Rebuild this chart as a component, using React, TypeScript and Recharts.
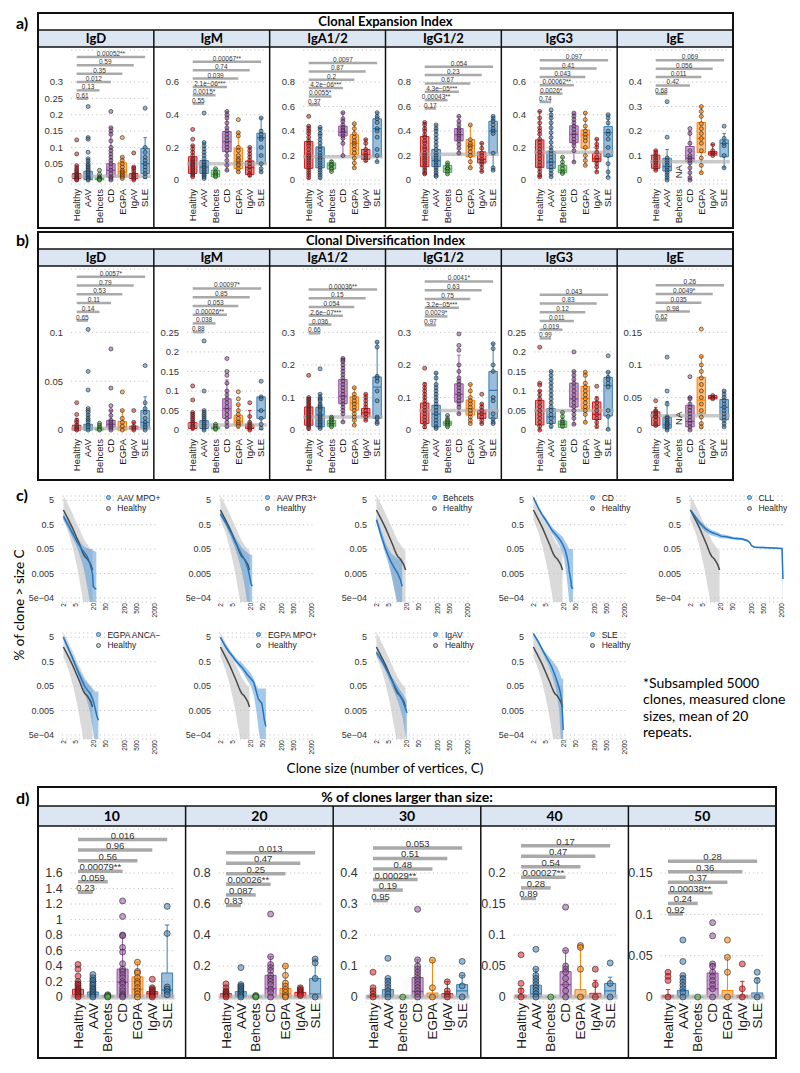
import React from 'react';
import {
  ComposedChart, XAxis, YAxis, CartesianGrid, Scatter, Area, Line,
  ReferenceArea, ReferenceLine, ReferenceDot,
} from 'recharts';

const FONT = "'Liberation Sans', Arial, sans-serif";
const TITLE_FONT = "Lato, 'Open Sans', sans-serif";

const GROUPS = ['Healthy', 'AAV', 'Behcets', 'CD', 'EGPA', 'IgAV', 'SLE'];
const GROUP_COLORS = ['#e41a1c', '#377eb8', '#4daf4a', '#984ea3', '#ff7f00', '#e41a1c', '#377eb8'];
const ISOTYPES = ['IgD', 'IgM', 'IgA1/2', 'IgG1/2', 'IgG3', 'IgE'];
const SIZES = ['10', '20', '30', '40', '50'];

// box stats per group: [whisker low, q1, median, q3, whisker high]

// ---- a) Clonal Expansion Index ----
const ceiIgDTicks = [0, 0.05, 0.1, 0.15, 0.2, 0.25, 0.3];
const ceiIgDBox = [[0, 0.005, 0.012, 0.02, 0.044], [0, 0.002, 0.01, 0.027, 0.065], [0, 0.001, 0.004, 0.006, 0.012], [0, 0.01, 0.03, 0.05, 0.16], [0.005, 0.01, 0.025, 0.053, 0.07], [0, 0.005, 0.012, 0.02, 0.04], [0.005, 0.02, 0.05, 0.097, 0.13]];
const ceiIgDPts = [
  [0.123, 0.08, 0.044, 0.036, 0.03, 0.025, 0.02, 0.016, 0.012, 0.008, 0.005, 0.002, 0],
  [0.225, 0.13, 0.125, 0.085, 0.065, 0.058, 0.05, 0.045, 0.04, 0.035, 0.03, 0.025, 0.02, 0.015, 0.01, 0.006, 0.003, 0],
  [0.03, 0.018, 0.01, 0.006, 0.004, 0.002, 0],
  [0.21, 0.16, 0.15, 0.14, 0.12, 0.1, 0.09, 0.08, 0.07, 0.06, 0.05, 0.04, 0.03, 0.02, 0.01, 0.005, 0],
  [0.13, 0.07, 0.06, 0.05, 0.04, 0.03, 0.025, 0.02, 0.015, 0.01, 0.005],
  [0.083, 0.04, 0.035, 0.028, 0.02, 0.015, 0.01, 0.005, 0],
  [0.22, 0.1, 0.085, 0.07, 0.06, 0.05, 0.04, 0.03, 0.02, 0.01],
];
const ceiIgDP = ['0.61', '0.13', '0.012', '0.35', '0.59', '0.00052**'];

const ceiIgMTicks = [0, 0.2, 0.4, 0.6];
const ceiIgMBox = [[0.02, 0.041, 0.1, 0.143, 0.21], [0.01, 0.041, 0.08, 0.119, 0.23], [0.015, 0.02, 0.035, 0.06, 0.07], [0.06, 0.174, 0.235, 0.297, 0.42], [0.05, 0.07, 0.11, 0.195, 0.29], [0.02, 0.035, 0.076, 0.117, 0.2], [0.05, 0.1, 0.26, 0.287, 0.38]];
const ceiIgMPts = [
  [0.31, 0.25, 0.21, 0.19, 0.17, 0.15, 0.13, 0.12, 0.11, 0.1, 0.09, 0.08, 0.07, 0.06, 0.05, 0.04, 0.03, 0.02],
  [0.41, 0.23, 0.21, 0.19, 0.17, 0.15, 0.13, 0.11, 0.1, 0.09, 0.08, 0.07, 0.06, 0.05, 0.04, 0.03, 0.02, 0.01],
  [0.07, 0.05, 0.04, 0.03, 0.02],
  [0.42, 0.4, 0.38, 0.35, 0.32, 0.3, 0.28, 0.26, 0.24, 0.22, 0.2, 0.18, 0.15, 0.12, 0.09, 0.06],
  [0.37, 0.29, 0.27, 0.2, 0.18, 0.15, 0.13, 0.12, 0.1, 0.09, 0.07, 0.05],
  [0.2, 0.18, 0.16, 0.14, 0.12, 0.1, 0.08, 0.06, 0.04, 0.03],
  [0.38, 0.3, 0.28, 0.26, 0.25, 0.2, 0.15, 0.1, 0.07, 0.05],
];
const ceiIgMP = ['0.55', '0.0015*', '2.1e\u221206***', '0.039', '0.74', '0.00067**'];

const ceiIgATicks = [0, 0.2, 0.4, 0.6, 0.8];
const ceiIgABox = [[0.01, 0.096, 0.19, 0.314, 0.44], [0.01, 0.1, 0.18, 0.27, 0.43], [0.07, 0.09, 0.12, 0.14, 0.16], [0.2, 0.36, 0.39, 0.44, 0.55], [0.1, 0.21, 0.3, 0.37, 0.46], [0.15, 0.17, 0.205, 0.25, 0.33], [0.15, 0.19, 0.42, 0.5, 0.55]];
const ceiIgAPts = [
  [0.52, 0.44, 0.42, 0.4, 0.38, 0.35, 0.32, 0.3, 0.28, 0.25, 0.22, 0.2, 0.18, 0.16, 0.14, 0.12, 0.1, 0.08, 0.06, 0.04, 0.02],
  [0.43, 0.41, 0.38, 0.36, 0.33, 0.3, 0.27, 0.25, 0.22, 0.2, 0.18, 0.16, 0.14, 0.12, 0.1, 0.08, 0.06, 0.04, 0.02],
  [0.15, 0.13, 0.12, 0.1, 0.09, 0.07],
  [0.55, 0.5, 0.48, 0.45, 0.43, 0.41, 0.4, 0.38, 0.36, 0.34, 0.3, 0.2],
  [0.46, 0.42, 0.38, 0.35, 0.32, 0.3, 0.28, 0.25, 0.22, 0.18, 0.14, 0.1],
  [0.33, 0.3, 0.25, 0.22, 0.2, 0.18, 0.16],
  [0.55, 0.52, 0.5, 0.47, 0.42, 0.4, 0.35, 0.25, 0.2, 0.15],
];
const ceiIgAP = ['0.37', '0.0055*', '4.2e\u221206***', '0.2', '0.87', '0.0097'];

const ceiIgG1Ticks = [0, 0.2, 0.4, 0.6, 0.8];
const ceiIgG1Box = [[0.05, 0.11, 0.21, 0.355, 0.47], [0.03, 0.11, 0.16, 0.25, 0.45], [0.05, 0.063, 0.09, 0.12, 0.14], [0.22, 0.32, 0.37, 0.42, 0.52], [0.1, 0.19, 0.28, 0.33, 0.45], [0.07, 0.14, 0.17, 0.23, 0.3], [0.08, 0.22, 0.4, 0.48, 0.52]];
const ceiIgG1Pts = [
  [0.47, 0.45, 0.42, 0.4, 0.37, 0.35, 0.32, 0.3, 0.27, 0.25, 0.22, 0.2, 0.18, 0.16, 0.14, 0.12, 0.1, 0.08, 0.06, 0.05],
  [0.45, 0.42, 0.4, 0.37, 0.34, 0.31, 0.28, 0.25, 0.22, 0.2, 0.18, 0.16, 0.14, 0.12, 0.1, 0.08, 0.06, 0.04, 0.03],
  [0.14, 0.12, 0.1, 0.09, 0.07, 0.05],
  [0.52, 0.48, 0.45, 0.42, 0.4, 0.38, 0.36, 0.34, 0.32, 0.29, 0.26, 0.22],
  [0.45, 0.33, 0.3, 0.28, 0.26, 0.23, 0.2, 0.15, 0.1],
  [0.3, 0.26, 0.22, 0.2, 0.17, 0.15, 0.13, 0.1, 0.07],
  [0.52, 0.5, 0.48, 0.45, 0.42, 0.4, 0.38, 0.22, 0.1, 0.08],
];
const ceiIgG1P = ['0.17', '0.00043**', '4.3e\u221205***', '0.67', '0.23', '0.054'];

const ceiIgG3Ticks = [0, 0.2, 0.4, 0.6];
const ceiIgG3Box = [[0.02, 0.078, 0.168, 0.246, 0.42], [0.02, 0.072, 0.11, 0.174, 0.42], [0.04, 0.045, 0.06, 0.09, 0.14], [0.11, 0.229, 0.28, 0.332, 0.41], [0.09, 0.195, 0.276, 0.307, 0.41], [0.05, 0.113, 0.13, 0.164, 0.25], [0.02, 0.143, 0.29, 0.327, 0.4]];
const ceiIgG3Pts = [
  [0.42, 0.38, 0.35, 0.32, 0.3, 0.28, 0.25, 0.23, 0.21, 0.19, 0.17, 0.15, 0.13, 0.11, 0.09, 0.07, 0.05, 0.03, 0.02],
  [0.43, 0.4, 0.38, 0.35, 0.32, 0.29, 0.26, 0.23, 0.2, 0.18, 0.16, 0.14, 0.12, 0.1, 0.08, 0.06, 0.04, 0.02],
  [0.14, 0.11, 0.09, 0.07, 0.05, 0.04],
  [0.41, 0.39, 0.37, 0.35, 0.33, 0.31, 0.29, 0.27, 0.25, 0.23, 0.21, 0.18, 0.11],
  [0.41, 0.37, 0.33, 0.3, 0.28, 0.26, 0.24, 0.2, 0.15, 0.12, 0.09],
  [0.25, 0.22, 0.2, 0.17, 0.14, 0.12, 0.1, 0.08, 0.05],
  [0.4, 0.38, 0.35, 0.3, 0.28, 0.25, 0.2, 0.15, 0.1, 0.05, 0.016],
];
const ceiIgG3P = ['0.74', '0.0026*', '0.00062**', '0.043', '0.41', '0.097'];

const ceiIgETicks = [0, 0.1, 0.2, 0.3, 0.4];
const ceiIgEBox = [[0.04, 0.048, 0.075, 0.102, 0.12], [0, 0.037, 0.055, 0.089, 0.125], null, [0, 0.075, 0.089, 0.137, 0.2], [0.03, 0.112, 0.17, 0.235, 0.3], [0.1, 0.102, 0.11, 0.116, 0.145], [0.05, 0.095, 0.15, 0.164, 0.19]];
const ceiIgEPts = [
  [0.12, 0.11, 0.1, 0.09, 0.08, 0.07, 0.06, 0.05, 0.04],
  [0.32, 0.175, 0.09, 0.08, 0.07, 0.06, 0.05, 0.04, 0.03, 0.02, 0.01, 0],
  [],
  [0.21, 0.19, 0.15, 0.12, 0.1, 0.09, 0.08, 0.07, 0.05, 0.03, 0.01, 0],
  [0.3, 0.28, 0.26, 0.23, 0.21, 0.19, 0.17, 0.15, 0.12, 0.09, 0.06, 0.03],
  [0.145, 0.12, 0.11, 0.1],
  [0.22, 0.17, 0.15, 0.14, 0.1, 0.05],
];
const ceiIgEP = ['0.68', null, '0.42', '0.011', '0.056', '0.069'];

// ---- b) Clonal Diversification Index ----
const cdiIgDTicks = [0, 0.05, 0.1];
const cdiIgDBox = [[0, 0, 0.002, 0.005, 0.012], [0, 0, 0.002, 0.006, 0.015], [0, 0, 0.001, 0.002, 0.005], [0, 0.003, 0.006, 0.01, 0.02], [0, 0, 0.003, 0.009, 0.02], [0, 0.001, 0.002, 0.004, 0.008], [0, 0.002, 0.008, 0.02, 0.034]];
const cdiIgDPts = [
  [0.028, 0.016, 0.01, 0.008, 0.005, 0.003, 0.001, 0],
  [0.103, 0.06, 0.041, 0.022, 0.02, 0.018, 0.015, 0.012, 0.01, 0.008, 0.005, 0.003, 0],
  [0.007, 0.005, 0.003, 0.001, 0],
  [0.083, 0.043, 0.025, 0.02, 0.015, 0.01, 0.008, 0.006, 0.004, 0.002, 0],
  [0.039, 0.02, 0.012, 0.008, 0.004, 0],
  [0.02, 0.008, 0.004, 0.002, 0],
  [0.066, 0.028, 0.022, 0.018, 0.012, 0.008, 0.005, 0.003, 0],
];
const cdiIgDP = ['0.65', '0.14', '0.11', '0.53', '0.79', '0.0057*'];

const cdiIgMTicks = [0, 0.05, 0.1, 0.15, 0.2, 0.25];
const cdiIgMBox = [[0, 0.004, 0.011, 0.019, 0.045], [0, 0.004, 0.014, 0.024, 0.05], [0, 0.003, 0.005, 0.008, 0.015], [0.005, 0.03, 0.055, 0.08, 0.128], [0.005, 0.013, 0.023, 0.038, 0.065], [0, 0.004, 0.009, 0.015, 0.05], [0.002, 0.03, 0.05, 0.085, 0.085]];
const cdiIgMPts = [
  [0.113, 0.077, 0.045, 0.04, 0.035, 0.03, 0.025, 0.02, 0.015, 0.01, 0.005],
  [0.228, 0.1, 0.05, 0.045, 0.04, 0.035, 0.03, 0.025, 0.02, 0.015, 0.01, 0.005, 0],
  [0.015, 0.01, 0.005, 0.002],
  [0.183, 0.15, 0.14, 0.12, 0.1, 0.09, 0.08, 0.07, 0.06, 0.05, 0.04, 0.03, 0.02, 0.01],
  [0.098, 0.08, 0.065, 0.05, 0.04, 0.03, 0.02, 0.015, 0.01],
  [0.07, 0.035, 0.02, 0.015, 0.01, 0.005, 0],
  [0.125, 0.085, 0.08, 0.05, 0.03, 0.015, 0.005],
];
const cdiIgMP = ['0.88', '0.038', '0.00026**', '0.053', '0.85', '0.00097*'];

const cdiIgATicks = [0, 0.1, 0.2, 0.3];
const cdiIgABox = [[0, 0.015, 0.041, 0.071, 0.1], [0.005, 0.01, 0.046, 0.07, 0.11], [0.01, 0.012, 0.02, 0.03, 0.04], [0.025, 0.081, 0.104, 0.155, 0.22], [0.015, 0.061, 0.083, 0.102, 0.13], [0.03, 0.041, 0.053, 0.066, 0.11], [0.02, 0.036, 0.132, 0.163, 0.27]];
const cdiIgAPts = [
  [0.168, 0.1, 0.095, 0.09, 0.085, 0.08, 0.075, 0.07, 0.065, 0.06, 0.055, 0.05, 0.045, 0.04, 0.035, 0.03, 0.025, 0.02, 0.015, 0.01, 0.005],
  [0.188, 0.11, 0.1, 0.095, 0.09, 0.08, 0.075, 0.07, 0.065, 0.06, 0.05, 0.045, 0.04, 0.035, 0.03, 0.025, 0.02, 0.015, 0.01, 0.005],
  [0.04, 0.035, 0.03, 0.025, 0.02, 0.015, 0.01],
  [0.22, 0.215, 0.21, 0.2, 0.19, 0.18, 0.17, 0.16, 0.15, 0.14, 0.13, 0.12, 0.11, 0.1, 0.09, 0.08, 0.07, 0.06, 0.05, 0.025],
  [0.13, 0.11, 0.1, 0.09, 0.08, 0.07, 0.06, 0.05, 0.04, 0.03, 0.015],
  [0.11, 0.1, 0.09, 0.08, 0.07, 0.06, 0.05, 0.04, 0.03],
  [0.27, 0.255, 0.165, 0.16, 0.15, 0.12, 0.09, 0.04, 0.035, 0.025, 0.02],
];
const cdiIgAP = ['0.66', '0.036', '2.6e\u221207***', '0.054', '0.15', '0.00036**'];

const cdiIgG1Ticks = [0, 0.1, 0.2, 0.3];
const cdiIgG1Box = [[0.005, 0.02, 0.059, 0.083, 0.145], [0.005, 0.01, 0.049, 0.076, 0.175], [0.01, 0.015, 0.021, 0.027, 0.045], [0.05, 0.086, 0.11, 0.142, 0.23], [0.02, 0.046, 0.066, 0.092, 0.14], [0.02, 0.036, 0.05, 0.061, 0.08], [0.02, 0.036, 0.122, 0.18, 0.265]];
const cdiIgG1Pts = [
  [0.19, 0.14, 0.13, 0.12, 0.11, 0.1, 0.09, 0.08, 0.07, 0.06, 0.05, 0.04, 0.03, 0.02, 0.01],
  [0.175, 0.16, 0.14, 0.13, 0.12, 0.11, 0.1, 0.09, 0.08, 0.07, 0.06, 0.05, 0.04, 0.03, 0.02, 0.01, 0.005],
  [0.045, 0.035, 0.03, 0.025, 0.02, 0.015, 0.01],
  [0.295, 0.26, 0.245, 0.2, 0.18, 0.16, 0.15, 0.14, 0.13, 0.12, 0.11, 0.1, 0.09, 0.08, 0.07, 0.05],
  [0.14, 0.12, 0.1, 0.09, 0.08, 0.07, 0.06, 0.05, 0.04, 0.03, 0.02],
  [0.11, 0.08, 0.07, 0.06, 0.05, 0.04, 0.03, 0.02],
  [0.265, 0.25, 0.2, 0.18, 0.1, 0.09, 0.05, 0.035, 0.025, 0.02],
];
const cdiIgG1P = ['0.97', '0.0029*', '3.2e\u221205***', '0.75', '0.63', '0.0041*'];

const cdiIgG3Ticks = [0, 0.05, 0.1, 0.15, 0.2, 0.25];
const cdiIgG3Box = [[0, 0.013, 0.049, 0.076, 0.1], [0.005, 0.017, 0.034, 0.055, 0.15], [0.005, 0.007, 0.015, 0.023, 0.045], [0.015, 0.059, 0.08, 0.12, 0.15], [0.02, 0.055, 0.081, 0.112, 0.148], [0.005, 0.027, 0.04, 0.072, 0.085], [0.002, 0.036, 0.114, 0.135, 0.148]];
const cdiIgG3Pts = [
  [0.212, 0.12, 0.115, 0.1, 0.09, 0.08, 0.07, 0.06, 0.05, 0.04, 0.03, 0.02, 0.01, 0],
  [0.15, 0.14, 0.13, 0.12, 0.11, 0.1, 0.09, 0.08, 0.07, 0.06, 0.05, 0.04, 0.03, 0.02, 0.01],
  [0.045, 0.035, 0.025, 0.02, 0.015, 0.01],
  [0.2, 0.15, 0.14, 0.13, 0.12, 0.11, 0.1, 0.09, 0.08, 0.07, 0.06, 0.05, 0.04, 0.03, 0.015],
  [0.148, 0.14, 0.12, 0.11, 0.1, 0.09, 0.08, 0.07, 0.06, 0.05, 0.04, 0.02],
  [0.112, 0.08, 0.07, 0.06, 0.05, 0.04, 0.03, 0.02, 0.01],
  [0.19, 0.148, 0.135, 0.13, 0.12, 0.11, 0.05, 0.035, 0.002],
];
const cdiIgG3P = ['0.99', '0.019', '0.011', '0.12', '0.83', '0.043'];

const cdiIgETicks = [0, 0.05, 0.1, 0.15];
const cdiIgEBox = [[0.006, 0.007, 0.02, 0.028, 0.035], [0, 0.003, 0.008, 0.02, 0.044], null, [0, 0.005, 0.013, 0.038, 0.05], [0.003, 0.025, 0.046, 0.081, 0.113], [0.048, 0.048, 0.05, 0.053, 0.053], [0.005, 0.016, 0.035, 0.047, 0.06]];
const cdiIgEPts = [
  [0.045, 0.03, 0.028, 0.025, 0.022, 0.02, 0.015, 0.01, 0.007],
  [0.112, 0.06, 0.04, 0.02, 0.018, 0.015, 0.012, 0.01, 0.008, 0.005, 0.003, 0],
  [],
  [0.082, 0.05, 0.048, 0.04, 0.035, 0.03, 0.025, 0.02, 0.015, 0.01, 0.005, 0],
  [0.155, 0.113, 0.1, 0.09, 0.08, 0.07, 0.06, 0.05, 0.04, 0.03, 0.02, 0.01, 0.005],
  [0.053, 0.05, 0.048],
  [0.06, 0.055, 0.05, 0.045, 0.04, 0.035, 0.03, 0.025, 0.02, 0.015, 0.01, 0.005],
];
const cdiIgEP = ['0.62', null, '0.98', '0.035', '0.0049*', '0.26'];

// ---- d) % of clones larger than size ----
const gt10Ticks = [0, 0.2, 0.4, 0.6, 0.8, 1, 1.2, 1.4, 1.6];
const gt10Box = [[0, 0, 0.03, 0.1, 0.2], [0, 0, 0.03, 0.065, 0.15], [0, 0, 0.005, 0.02, 0.03], [0, 0, 0.19, 0.36, 0.8], [0, 0, 0.1, 0.26, 0.45], [0, 0, 0.04, 0.07, 0.12], [0, 0, 0.09, 0.31, 0.93]];
const gt10Pts = [
  [0.42, 0.36, 0.27, 0.2, 0.17, 0.15, 0.12, 0.1, 0.08, 0.06, 0.04, 0.02, 0],
  [0.29, 0.25, 0.22, 0.2, 0.17, 0.15, 0.12, 0.1, 0.08, 0.06, 0.04, 0.02, 0],
  [0.03, 0.02, 0.01, 0],
  [1.24, 1.04, 0.8, 0.79, 0.64, 0.58, 0.43, 0.36, 0.33, 0.29, 0.25, 0.2, 0.17, 0.12, 0.08, 0.04, 0.02, 0],
  [0.45, 0.33, 0.31, 0.25, 0.2, 0.17, 0.12, 0.08, 0.04, 0],
  [0.23, 0.12, 0.1, 0.08, 0.06, 0.04, 0.02, 0],
  [1.17, 0.82, 0.13, 0.1, 0.07, 0.03],
];
const gt10P = ['0.23', '0.059', '0.00079**', '0.56', '0.96', '0.016'];

const gt20Ticks = [0, 0.2, 0.4, 0.6, 0.8];
const gt20Box = [[0, 0, 0.005, 0.022, 0.05], [0, 0, 0.01, 0.035, 0.08], [0, 0, 0, 0.005, 0.01], [0, 0, 0.055, 0.14, 0.26], [0, 0, 0.02, 0.055, 0.2], [0, 0, 0.01, 0.03, 0.06], [0, 0, 0.02, 0.12, 0.245]];
const gt20Pts = [
  [0.085, 0.06, 0.04, 0.03, 0.02, 0.01, 0],
  [0.19, 0.08, 0.07, 0.06, 0.05, 0.04, 0.03, 0.02, 0.01, 0],
  [0.01, 0.005, 0],
  [0.535, 0.26, 0.21, 0.19, 0.17, 0.14, 0.12, 0.1, 0.08, 0.05, 0.03, 0],
  [0.2, 0.14, 0.09, 0.07, 0.05, 0.03, 0.01, 0],
  [0.06, 0.05, 0.04, 0.03, 0.02, 0.01],
  [0.245, 0.22, 0.12, 0],
];
const gt20P = ['0.83', '0.087', '0.00026**', '0.25', '0.47', '0.013'];

const gt30Ticks = [0, 0.1, 0.2, 0.3, 0.4];
const gt30Box = [[0, 0, 0, 0.005, 0.01], [0, 0, 0.005, 0.024, 0.06], [0, 0, 0, 0, 0], [0, 0, 0.018, 0.063, 0.12], [0, 0, 0, 0.013, 0.119], [0, 0, 0, 0.011, 0.05], [0, 0, 0.02, 0.04, 0.07]];
const gt30Pts = [
  [0.08, 0.03, 0.02, 0.01, 0],
  [0.125, 0.06, 0.05, 0.04, 0.03, 0.02, 0.01, 0],
  [0],
  [0.283, 0.12, 0.1, 0.09, 0.08, 0.07, 0.06, 0.05, 0.04, 0.03, 0.02, 0.01, 0],
  [0.119, 0.03, 0],
  [0.049, 0.02, 0.01, 0],
  [0.115, 0.07, 0.036, 0],
];
const gt30P = ['0.95', '0.19', '0.00029**', '0.48', '0.51', '0.053'];

const gt40Ticks = [0, 0.05, 0.1, 0.15, 0.2];
const gt40Box = [[0, 0, 0, 0.003, 0.014], [0, 0, 0.005, 0.019, 0.045], [0, 0, 0, 0, 0], [0, 0, 0.02, 0.041, 0.075], [0, 0, 0, 0.012, 0.083], [0, 0, 0, 0.006, 0.027], [0, 0, 0.01, 0.022, 0.032]];
const gt40Pts = [
  [0.068, 0.022, 0.01, 0],
  [0.077, 0.045, 0.035, 0.03, 0.025, 0.02, 0.015, 0.01, 0.005, 0],
  [0],
  [0.145, 0.075, 0.05, 0.045, 0.04, 0.03, 0.02, 0.01, 0],
  [0.083, 0.08, 0.045, 0],
  [0.045, 0.02, 0],
  [0.055, 0.022, 0],
];
const gt40P = ['0.89', '0.28', '0.00027**', '0.54', '0.47', '0.17'];

const gt50Ticks = [0, 0.05, 0.1, 0.15];
const gt50Box = [[0, 0, 0, 0.002, 0.009], [0, 0, 0.002, 0.008, 0.026], [0, 0, 0, 0, 0], [0, 0, 0.01, 0.029, 0.04], [0, 0, 0, 0.008, 0.048], [0, 0, 0, 0.002, 0.019], [0, 0, 0, 0.005, 0.023]];
const gt50Pts = [
  [0.03, 0.025, 0.02, 0],
  [0.069, 0.043, 0.026, 0.022, 0.018, 0.014, 0.01, 0.006, 0],
  [0],
  [0.09, 0.074, 0.04, 0.037, 0.03, 0.025, 0.02, 0.015, 0.01, 0],
  [0.069, 0.048, 0.03, 0],
  [0.04, 0.01, 0],
  [0.03, 0.02, 0],
];
const gt50P = ['0.92', '0.24', '0.00038**', '0.37', '0.36', '0.28'];

// ---- c) clone size distributions (% of clones > size C) ----
const healthyC = [2, 3, 4, 5, 6, 7, 8, 9, 10, 12, 14, 16, 18];
const healthyMean = [2.0, 0.75, 0.36, 0.19, 0.11, 0.07, 0.045, 0.032, 0.025, 0.02, 0.015, 0.011, 0.007];
const healthyLo = [0.8, 0.22, 0.06, 0.018, 0.006, 0.002, 0.0008, 0.0003, 0.0001, 0.0001, 0.0001, 0.0001, 0.0001];
const healthyHi = [8, 3, 1.4, 0.75, 0.45, 0.3, 0.2, 0.15, 0.11, 0.08, 0.06, 0.05, 0.04];

const mpoC = [2, 3, 4, 5, 6, 8, 10, 12, 14, 16, 18, 19, 22, 24];
const mpoMean = [1.1, 0.45, 0.22, 0.13, 0.085, 0.05, 0.035, 0.025, 0.016, 0.009, 0.005, 0.0015, 0.0012, 0.0012];
const mpoLo = [0.8, 0.3, 0.14, 0.08, 0.045, 0.016, 0.005, 0.0015, 0.0005, 0.0002, 0.0001, 0.0001, 0.0001, 0.0001];
const mpoHi = [1.5, 0.65, 0.32, 0.2, 0.14, 0.08, 0.06, 0.055, 0.05, 0.05, 0.05, 0.045, 0.04, 0.04];

const pr3C = [2, 3, 4, 5, 6, 8, 10, 12, 14, 16, 18, 20, 22];
const pr3Mean = [1.4, 0.6, 0.3, 0.17, 0.1, 0.05, 0.03, 0.02, 0.013, 0.008, 0.004, 0.002, 0.0015];
const pr3Lo = [1.1, 0.45, 0.2, 0.1, 0.055, 0.018, 0.006, 0.002, 0.0006, 0.0002, 0.0001, 0.0001, 0.0001];
const pr3Hi = [1.8, 0.8, 0.42, 0.25, 0.16, 0.09, 0.06, 0.045, 0.04, 0.035, 0.03, 0.03, 0.03];

const behC = [2, 3, 4, 5, 6, 8, 10, 12, 14];
const behMean = [0.8, 0.15, 0.05, 0.025, 0.015, 0.008, 0.005, 0.003, 0.0015];
const behLo = [0.6, 0.1, 0.03, 0.012, 0.005, 0.001, 0.0003, 0.0001, 0.0001];
const behHi = [1.1, 0.25, 0.09, 0.05, 0.035, 0.025, 0.02, 0.02, 0.02];

const cdC = [2, 3, 4, 5, 6, 8, 10, 12, 15, 18, 20, 22, 25, 28, 30, 33, 36, 40];
const cdMean = [6.5, 2.2, 1.2, 0.8, 0.55, 0.3, 0.22, 0.17, 0.12, 0.08, 0.06, 0.045, 0.025, 0.012, 0.006, 0.003, 0.0013, 0.0012];
const cdLo = [6, 2, 1, 0.65, 0.45, 0.22, 0.15, 0.1, 0.06, 0.035, 0.02, 0.01, 0.003, 0.0008, 0.0003, 0.0002, 0.0002, 0.0002];
const cdHi = [7, 2.5, 1.4, 1, 0.7, 0.42, 0.32, 0.26, 0.2, 0.16, 0.13, 0.1, 0.08, 0.06, 0.05, 0.05, 0.05, 0.05];

const cllC = [2, 3, 4, 5, 6, 8, 10, 15, 20, 30, 50, 100, 150, 180, 200, 250, 500, 1000, 2000, 2150];
const cllMean = [2.0, 1.0, 0.6, 0.45, 0.36, 0.28, 0.24, 0.2, 0.17, 0.16, 0.14, 0.13, 0.11, 0.09, 0.07, 0.06, 0.058, 0.055, 0.053, 0.003];
const cllLo = [1.8, 0.8, 0.45, 0.33, 0.27, 0.21, 0.18, 0.155, 0.14, 0.135, 0.125, 0.115, 0.1, 0.08, 0.065, 0.055, 0.053, 0.05, 0.05, 0.0003];
const cllHi = [2.2, 1.2, 0.75, 0.6, 0.47, 0.36, 0.3, 0.25, 0.21, 0.19, 0.16, 0.145, 0.125, 0.1, 0.075, 0.065, 0.062, 0.058, 0.056, 0.05];

const ancaC = [2, 3, 4, 5, 6, 8, 10, 12, 15, 18, 20, 22, 25, 28];
const ancaMean = [5, 1.6, 0.7, 0.35, 0.2, 0.09, 0.05, 0.035, 0.025, 0.015, 0.01, 0.006, 0.003, 0.002];
const ancaLo = [4, 1.2, 0.5, 0.25, 0.13, 0.05, 0.025, 0.012, 0.004, 0.001, 0.0004, 0.0002, 0.0001, 0.0001];
const ancaHi = [6, 2, 0.9, 0.5, 0.3, 0.15, 0.09, 0.07, 0.05, 0.04, 0.035, 0.03, 0.03, 0.03];

const empoC = [2, 3, 4, 5, 6, 8, 10, 12, 15, 20, 25, 30, 35, 40, 45, 50, 55, 62];
const empoMean = [5, 2, 1.2, 0.85, 0.6, 0.4, 0.3, 0.22, 0.15, 0.1, 0.07, 0.03, 0.015, 0.012, 0.01, 0.005, 0.002, 0.0011];
const empoLo = [4.5, 1.7, 1, 0.7, 0.5, 0.3, 0.22, 0.15, 0.09, 0.05, 0.02, 0.005, 0.001, 0.0003, 0.0001, 0.0001, 0.0001, 0.0001];
const empoHi = [5.5, 2.4, 1.5, 1.05, 0.8, 0.55, 0.45, 0.35, 0.25, 0.17, 0.1, 0.05, 0.04, 0.04, 0.04, 0.04, 0.04, 0.04];

const igavC = [2, 3, 4, 5, 6, 8, 10, 12, 14, 16, 18, 20];
const igavMean = [1.2, 0.55, 0.28, 0.16, 0.1, 0.05, 0.03, 0.02, 0.014, 0.009, 0.006, 0.004];
const igavLo = [0.9, 0.4, 0.2, 0.1, 0.06, 0.025, 0.012, 0.006, 0.003, 0.0012, 0.0005, 0.0002];
const igavHi = [1.5, 0.7, 0.37, 0.22, 0.14, 0.08, 0.05, 0.035, 0.027, 0.02, 0.016, 0.013];

const sleC = [2, 3, 4, 5, 6, 8, 10, 12, 14, 15, 16, 17, 18, 19];
const sleMean = [7, 3, 1.5, 0.9, 0.6, 0.3, 0.15, 0.08, 0.04, 0.03, 0.02, 0.012, 0.003, 0.0008];
const sleLo = [6, 2.5, 1.2, 0.65, 0.4, 0.15, 0.06, 0.02, 0.005, 0.001, 0.0003, 0.0001, 0.0001, 0.0001];
const sleHi = [8, 3.5, 1.8, 1.2, 0.9, 0.6, 0.4, 0.3, 0.2, 0.15, 0.12, 0.1, 0.1, 0.1];

const SIZE_X_TICKS = [2, 5, 20, 50, 200, 500, 2000];
const SIZE_Y_TICKS = [0.0005, 0.005, 0.05, 0.5, 5];

const mkPanel = (name, ticks, ref, box, pts, pv) => ({ name, ticks, T: ticks[ticks.length - 1], ref, box, pts, pv });
const mkCurve = (c, m, lo, hi) => c.map((x, i) => ({ c: x, m: m[i], band: [lo[i], hi[i]] }));

const ceiPanels = [
  mkPanel('IgD', ceiIgDTicks, 0.012, ceiIgDBox, ceiIgDPts, ceiIgDP),
  mkPanel('IgM', ceiIgMTicks, 0.1, ceiIgMBox, ceiIgMPts, ceiIgMP),
  mkPanel('IgA1/2', ceiIgATicks, 0.19, ceiIgABox, ceiIgAPts, ceiIgAP),
  mkPanel('IgG1/2', ceiIgG1Ticks, 0.21, ceiIgG1Box, ceiIgG1Pts, ceiIgG1P),
  mkPanel('IgG3', ceiIgG3Ticks, 0.17, ceiIgG3Box, ceiIgG3Pts, ceiIgG3P),
  mkPanel('IgE', ceiIgETicks, 0.075, ceiIgEBox, ceiIgEPts, ceiIgEP),
];
const cdiPanels = [
  mkPanel('IgD', cdiIgDTicks, 0.002, cdiIgDBox, cdiIgDPts, cdiIgDP),
  mkPanel('IgM', cdiIgMTicks, 0.013, cdiIgMBox, cdiIgMPts, cdiIgMP),
  mkPanel('IgA1/2', cdiIgATicks, 0.04, cdiIgABox, cdiIgAPts, cdiIgAP),
  mkPanel('IgG1/2', cdiIgG1Ticks, 0.06, cdiIgG1Box, cdiIgG1Pts, cdiIgG1P),
  mkPanel('IgG3', cdiIgG3Ticks, 0.05, cdiIgG3Box, cdiIgG3Pts, cdiIgG3P),
  mkPanel('IgE', cdiIgETicks, 0.022, cdiIgEBox, cdiIgEPts, cdiIgEP),
];
const gtPanels = [
  mkPanel('10', gt10Ticks, 0, gt10Box, gt10Pts, gt10P),
  mkPanel('20', gt20Ticks, 0, gt20Box, gt20Pts, gt20P),
  mkPanel('30', gt30Ticks, 0, gt30Box, gt30Pts, gt30P),
  mkPanel('40', gt40Ticks, 0, gt40Box, gt40Pts, gt40P),
  mkPanel('50', gt50Ticks, 0, gt50Box, gt50Pts, gt50P),
];
const healthyCurve = mkCurve(healthyC, healthyMean, healthyLo, healthyHi);
const sizeRows = [
  [
    { name: 'AAV MPO+', rows: mkCurve(mpoC, mpoMean, mpoLo, mpoHi) },
    { name: 'AAV PR3+', rows: mkCurve(pr3C, pr3Mean, pr3Lo, pr3Hi) },
    { name: 'Behcets', rows: mkCurve(behC, behMean, behLo, behHi) },
    { name: 'CD', rows: mkCurve(cdC, cdMean, cdLo, cdHi) },
    { name: 'CLL', rows: mkCurve(cllC, cllMean, cllLo, cllHi) },
  ],
  [
    { name: 'EGPA ANCA\u2212', rows: mkCurve(ancaC, ancaMean, ancaLo, ancaHi) },
    { name: 'EGPA MPO+', rows: mkCurve(empoC, empoMean, empoLo, empoHi) },
    { name: 'IgAV', rows: mkCurve(igavC, igavMean, igavLo, igavHi) },
    { name: 'SLE', rows: mkCurve(sleC, sleMean, sleLo, sleHi) },
  ],
];

// layout styles for the three box-plot sections
const STYLE_A = { topF: 1.327, xh: 44, yw: 29, ml: 4, mr: 3, yfs: 9.5, xfs: 9.5, tickSize: 5, r: 2, bFs: 6.5, bW: 2.5, bGap: 0.08, bStep: 0.0853, refW: 3.5, naY: 0.085 };
const STYLE_B = { ...STYLE_A, topF: 1.648, xh: 46, bGap: 0.09, bStep: 0.0895, naY: 0.12 };
const STYLE_D = { topF: 1.355, xh: 56, yw: 28, ml: 4.6, mr: 11, yfs: 12.5, xfs: 13.5, tickSize: 1, r: 3, bFs: 9.5, bW: 3.5, bGap: 0.07, bStep: 0.085, refW: 5, naY: 0.1 };

function RotTick(props) {
  const { x, y, payload, fs, labels } = props;
  const text = labels ? labels[payload.value] : String(payload.value);
  return (
    <text x={x} y={y} transform={`rotate(-90 ${x} ${y})`} textAnchor="end" dy="0.35em"
      fontSize={fs} fontFamily={FONT} fill="#1a1a1a">{text}</text>
  );
}

function BoxPanel({ p, w, h, s }) {
  const T = p.T;
  const rows = p.pts.flatMap((vals, g) => vals.map((v) => ({ x: g, y: v, g })));
  const top = Math.max(...rows.map((r) => r.y));
  const brackets = [];
  p.pv.forEach((lab, i) => {
    if (lab === null) return;
    brackets.push({ g: i + 1, lab, y: top + (s.bGap + brackets.length * s.bStep) * T });
  });
  const hw = 0.37;
  const cap = 0.15;
  return (
    <ComposedChart width={w} height={h} margin={{ top: 3, right: s.mr, bottom: 0, left: s.ml }}>
      <CartesianGrid vertical={false} stroke="#c4c4c4" strokeDasharray="1.2 3" />
      <XAxis dataKey="x" type="number" domain={[-0.5, 6.5]} ticks={[0, 1, 2, 3, 4, 5, 6]} interval={0}
        allowDataOverflow tickLine={false} axisLine={false} height={s.xh} tickSize={s.tickSize} tickMargin={0}
        tick={(tp) => <RotTick {...tp} fs={s.xfs} labels={GROUPS} />} />
      <YAxis type="number" domain={[-0.04 * T, s.topF * T]} ticks={p.ticks} interval={0} allowDataOverflow
        tickLine={false} axisLine={false} width={s.yw}
        tick={{ fontSize: s.yfs, fill: '#333', fontFamily: FONT }} />
      {p.box.map((b, g) => {
        const c = GROUP_COLORS[g];
        if (!b) {
          return (
            <ReferenceDot key={`na${g}`} x={g} y={s.naY * T} r={0}
              shape={(q) => (
                <text x={q.cx} y={q.cy} transform={`rotate(-90 ${q.cx} ${q.cy})`} textAnchor="middle" dy="0.35em"
                  fontSize={s.xfs} fontFamily={FONT} fill="#222">NA</text>
              )} />
          );
        }
        return [
          <ReferenceLine key={`wl${g}`} segment={[{ x: g, y: b[0] }, { x: g, y: b[1] }]} stroke={c} strokeWidth={1} />,
          <ReferenceLine key={`wh${g}`} segment={[{ x: g, y: b[3] }, { x: g, y: b[4] }]} stroke={c} strokeWidth={1} />,
          <ReferenceLine key={`ch${g}`} segment={[{ x: g - cap, y: b[4] }, { x: g + cap, y: b[4] }]} stroke={c} strokeWidth={1} />,
          <ReferenceLine key={`cl${g}`} segment={[{ x: g - cap, y: b[0] }, { x: g + cap, y: b[0] }]} stroke={c} strokeWidth={1} />,
          <ReferenceArea key={`bx${g}`} x1={g - hw} x2={g + hw} y1={b[1]} y2={b[3]} fill={c} fillOpacity={0.5}
            stroke={c} strokeWidth={1} />,
          <ReferenceLine key={`md${g}`} segment={[{ x: g - hw, y: b[2] }, { x: g + hw, y: b[2] }]} stroke={c} strokeWidth={1.3} />,
        ];
      })}
      <ReferenceLine y={p.ref} stroke="#b4b4b4" strokeWidth={s.refW} strokeOpacity={0.7} />
      <Scatter data={rows} dataKey="y" isAnimationActive={false}
        shape={(q) => (
          <circle cx={q.cx} cy={q.cy} r={s.r} fill={GROUP_COLORS[q.payload.g]} fillOpacity={0.55}
            stroke="#222" strokeWidth={0.6} />
        )} />
      {brackets.map((br) => [
        <ReferenceLine key={`bl${br.g}`} segment={[{ x: 0, y: br.y }, { x: br.g, y: br.y }]}
          stroke="#a9a9a9" strokeWidth={s.bW} />,
        <ReferenceDot key={`bt${br.g}`} x={br.g / 2} y={br.y} r={0}
          shape={(q) => (
            <text x={q.cx} y={q.cy - 1} textAnchor="middle" fontSize={s.bFs} fontFamily={FONT} fill="#333">{br.lab}</text>
          )} />,
      ])}
    </ComposedChart>
  );
}

const fmtSizeY = (v) => (v >= 0.001 ? String(v) : v.toExponential(0).replace('e-', 'e\u22120'));

function SizePanel({ item }) {
  return (
    <div style={{ position: 'relative', width: 150, height: 136 }}>
      <ComposedChart width={150} height={136} margin={{ top: 5, right: 10.6, bottom: 0, left: 0 }}>
        <CartesianGrid vertical={false} stroke="#c4c4c4" strokeDasharray="1.2 3" />
        <XAxis dataKey="c" type="number" scale="log" domain={[1.8, 2400]} ticks={SIZE_X_TICKS} interval={0}
          allowDataOverflow tickLine={false} axisLine={false} height={25} tickSize={1} tickMargin={0}
          tick={(tp) => <RotTick {...tp} fs={6.5} />} />
        <YAxis type="number" scale="log" domain={[3.4e-4, 7.5]} ticks={SIZE_Y_TICKS} interval={0} allowDataOverflow
          tickFormatter={fmtSizeY} tickLine={false} axisLine={false} width={44}
          tick={{ fontSize: 9, fill: '#333', fontFamily: FONT }} />
        <Area data={healthyCurve} dataKey="band" type="linear" stroke="none" fill="#c2c2c2" fillOpacity={0.6}
          isAnimationActive={false} />
        <Area data={item.rows} dataKey="band" type="linear" stroke="none" fill="#5b9bd5" fillOpacity={0.55}
          isAnimationActive={false} />
        <Line data={healthyCurve} dataKey="m" type="linear" stroke="#4a4a4a" strokeWidth={1.5} dot={false}
          isAnimationActive={false} />
        <Line data={item.rows} dataKey="m" type="linear" stroke="#1f77c4" strokeWidth={1.5} dot={false}
          isAnimationActive={false} />
      </ComposedChart>
      <div style={{ position: 'absolute', right: 7.6, top: 1.6, fontSize: 8.5, fontFamily: FONT, lineHeight: '10.7px', color: '#222' }}>
        {[{ n: item.name, s: '#2b7bba', f: '#9cc3e5' }, { n: 'Healthy', s: '#555', f: '#cfcfcf' }].map((l) => (
          <div key={l.n} style={{ display: 'flex', alignItems: 'center', whiteSpace: 'nowrap' }}>
            <span style={{ display: 'inline-block', width: 5, height: 5, borderRadius: '50%', border: `1.2px solid ${l.s}`, background: l.f, marginRight: 6.5, boxSizing: 'border-box' }} />
            {l.n}
          </div>
        ))}
      </div>
    </div>
  );
}

function Frame({ x, y, w, th, sh, bh, title, strips, tfs, sfs }) {
  const pw = w / strips.length;
  const H = th + sh + bh;
  return (
    <g>
      <rect x={x} y={y + th} width={w} height={sh} fill="#dce6f2" />
      <text x={x + w / 2} y={y + th / 2} dy="0.36em" textAnchor="middle" fontFamily={TITLE_FONT} fontWeight={700} fontSize={tfs}>{title}</text>
      {strips.map((s, i) => (
        <text key={s} x={x + pw * (i + 0.5)} y={y + th + sh / 2} dy="0.36em" textAnchor="middle"
          fontFamily={TITLE_FONT} fontWeight={700} fontSize={sfs}>{s}</text>
      ))}
      <line x1={x} x2={x + w} y1={y + th} y2={y + th} stroke="#111" strokeWidth={1.5} />
      <line x1={x} x2={x + w} y1={y + th + sh} y2={y + th + sh} stroke="#111" strokeWidth={1.5} />
      {strips.slice(1).map((s, i) => (
        <line key={s} x1={x + pw * (i + 1)} x2={x + pw * (i + 1)} y1={y + th} y2={y + H} stroke="#111" strokeWidth={1.5} />
      ))}
      <rect x={x} y={y} width={w} height={H} fill="none" stroke="#111" strokeWidth={2} />
    </g>
  );
}

export default function App() {
  const aW = 695 / 6;
  const dW = 738 / 5;
  return (
    <div style={{ position: 'absolute', left: 0, top: 0, width: 800, height: 1073, background: '#fff', overflow: 'hidden' }}>
      <svg width={800} height={1073} style={{ position: 'absolute', left: 0, top: 0 }}>
        {[['a)', 29], ['b)', 246], ['c)', 501], ['d)', 804]].map(([t, yy]) => (
          <text key={t} x={16} y={yy} fontFamily={TITLE_FONT} fontWeight={700} fontSize={16}>{t}</text>
        ))}
        <Frame x={38} y={13} w={695} th={17} sh={17} bh={181} title="Clonal Expansion Index" strips={ISOTYPES} tfs={13} sfs={13} />
        <Frame x={38} y={232} w={695} th={17} sh={17} bh={214} title="Clonal Diversification Index" strips={ISOTYPES} tfs={13} sfs={13} />
        <Frame x={38} y={787} w={738} th={19} sh={20} bh={232} title="% of clones larger than size:" strips={SIZES} tfs={14} sfs={14} />
        <text x={19} y={605} transform="rotate(-90 19 605)" textAnchor="middle" dy="0.35em" fontFamily={TITLE_FONT} fontSize={13.5}>% of clone &gt; size C</text>
        <text x={385} y={773} textAnchor="middle" fontFamily={TITLE_FONT} fontSize={13.5}>Clone size (number of vertices, C)</text>
        {['*Subsampled 5000', 'clones, measured clone', 'sizes, mean of 20', 'repeats.'].map((t, i) => (
          <text key={t} x={643} y={688 + i * 16.4} fontFamily={TITLE_FONT} fontSize={14}>{t}</text>
        ))}
      </svg>
      {ceiPanels.map((p, i) => (
        <div key={`a${i}`} style={{ position: 'absolute', left: 38 + i * aW, top: 47 }}>
          <BoxPanel p={p} w={aW} h={181} s={STYLE_A} />
        </div>
      ))}
      {cdiPanels.map((p, i) => (
        <div key={`b${i}`} style={{ position: 'absolute', left: 38 + i * aW, top: 266 }}>
          <BoxPanel p={p} w={aW} h={214} s={STYLE_B} />
        </div>
      ))}
      {sizeRows.map((row, r) => row.map((item, i) => (
        <div key={`c${r}${i}`} style={{ position: 'absolute', left: 18 + i * 156.7, top: r === 0 ? 491 : 628 }}>
          <SizePanel item={item} />
        </div>
      )))}
      {gtPanels.map((p, i) => (
        <div key={`d${i}`} style={{ position: 'absolute', left: 38 + i * dW, top: 826 }}>
          <BoxPanel p={p} w={dW} h={232} s={STYLE_D} />
        </div>
      ))}
    </div>
  );
}
